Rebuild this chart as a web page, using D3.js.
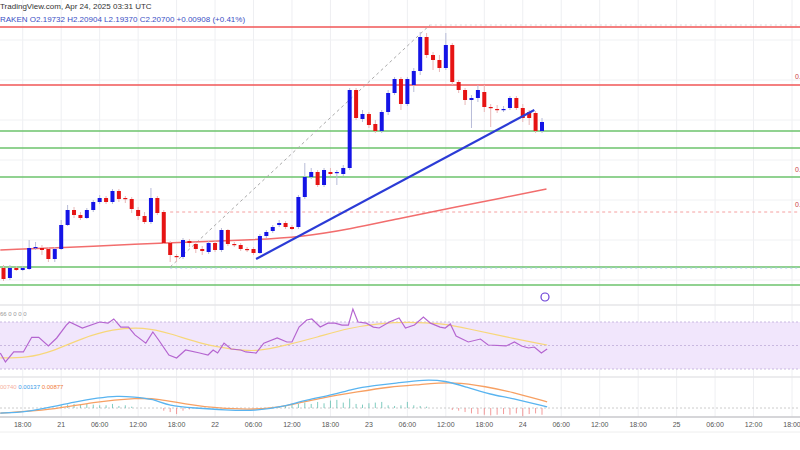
<!DOCTYPE html>
<html>
<head>
<meta charset="utf-8">
<script src="https://cdn.jsdelivr.net/npm/d3@7"></script>
<style>
  body { margin: 0; background: #fff; }
  svg { font-family: "Liberation Sans", Arial, sans-serif; display: block; }
</style>
</head>
<body>
<svg id="chart" width="800" height="450"></svg>
<script>
// hourly candles starting 2025-04-20 15:00 UTC, prices x1000
const startTime = Date.UTC(2025, 3, 20, 15);
const candles = [
  [2066,2055,2069,2053],[2056,2066,2069,2054],[2066,2064,2068,2063],[2064,2066,2068,2063],
  [2065,2086,2094,2064],[2086,2087,2092,2084],[2086,2084,2089,2079],[2085,2075,2087,2072],
  [2075,2085,2087,2072],[2085,2109,2114,2084],[2109,2124,2129,2108],[2124,2119,2127,2116],
  [2119,2116,2122,2114],[2116,2124,2126,2115],[2124,2132,2134,2122],[2132,2136,2139,2130],
  [2136,2132,2138,2130],[2132,2143,2145,2130],[2143,2135,2145,2132],[2136,2135,2138,2131],
  [2135,2125,2137,2121],[2124,2118,2127,2114],[2118,2112,2122,2110],[2112,2136,2146,2110],
  [2136,2121,2138,2119],[2122,2091,2124,2090],[2091,2079,2093,2072],[2078,2077,2080,2072],
  [2077,2094,2096,2075],[2093,2091,2095,2087],[2090,2085,2092,2081],[2085,2083,2088,2079],
  [2082,2091,2093,2080],[2091,2084,2093,2082],[2084,2104,2106,2082],[2104,2090,2105,2088],
  [2090,2089,2092,2087],[2089,2085,2091,2083],[2085,2084,2087,2082],[2085,2081,2087,2079],
  [2081,2098,2100,2080],[2098,2102,2104,2096],[2103,2107,2109,2101],[2109,2111,2114,2107],
  [2111,2107,2113,2105],[2107,2105,2109,2104],[2107,2137,2139,2105],[2137,2157,2171,2135],
  [2157,2162,2166,2155],[2162,2149,2164,2147],[2149,2164,2166,2147],[2162,2160,2166,2158],
  [2161,2162,2164,2149],[2160,2166,2169,2158],[2166,2244,2246,2164],[2244,2216,2246,2214],
  [2215,2220,2224,2212],[2220,2209,2222,2206],[2210,2203,2214,2201],[2203,2222,2224,2201],
  [2222,2241,2244,2219],[2241,2255,2257,2239],[2255,2230,2257,2224],[2230,2255,2257,2228],
  [2249,2263,2266,2242],[2263,2297,2302,2259],[2297,2279,2301,2276],[2279,2274,2282,2264],
  [2274,2266,2279,2262],[2266,2289,2301,2264],[2289,2252,2291,2249],[2252,2244,2254,2241],
  [2244,2234,2246,2229],[2234,2236,2239,2206],[2236,2244,2249,2232],[2242,2227,2249,2222],
  [2227,2226,2230,2207],[2225,2224,2229,2221],[2225,2225,2228,2222],[2226,2236,2238,2224],
  [2236,2226,2238,2224],[2226,2216,2230,2212],[2222,2216,2224,2209],[2221,2203,2223,2201],
  [2203,2212,2216,2201]
];
const redLevels = [2307, 2249];
const greenLevels = [2203, 2186, 2157, 2067, 2049];
const dashedLevel = 2122;
const trendLine = [[39.4, 2075], [82.8, 2224]];
const fibLine = [[26, 2067], [66.5, 2309]];
const maLine = [[-0.5,2084],[15,2088],[24.5,2091],[38.6,2094],[46.4,2097],[54.2,2105],[62,2116],[69.8,2126],[77.7,2136],[84.7,2145]];

const rsiLine = [[-0.5,43.6],[0.3,36],[1.6,44.5],[3.1,44.5],[4.4,57],[5.5,57],[7,49.6],[8.3,56.4],[9.8,67.4],[10.3,70],
  [12.3,64.9],[15,70],[16.3,69],[17.2,72.6],[18.3,65.7],[19.5,65.7],[20.5,59],[22.2,52],[23.3,61.5],[24.2,54.7],
  [25.8,41.9],[27,39.4],[28.4,46.2],[30.6,43.6],[31.9,41.9],[32.7,46.2],[33.4,43.6],[34.4,52],[35.5,47],[37,46.2],
  [37.8,44.5],[39.4,43.6],[40.6,52],[42.7,56.4],[44.2,53],[45,53],[46.1,65.7],[47.3,71.7],[48.1,72.6],[49.4,65.7],
  [50.6,69],[51.7,69],[52.8,67.4],[53.8,67.4],[54.5,81],[55.3,70],[56.6,69],[57.7,65.7],[58.6,64.9],[60.2,70],
  [61.7,73.4],[62.7,64.9],[64.1,67.4],[65.5,74.3],[66.6,69],[68.1,65.7],[68.9,64.9],[69.7,68.3],[70.6,58],[72.5,53],
  [74.4,55.5],[75.6,50.4],[78.4,49.6],[79.7,53],[80.8,49.6],[81.9,47.9],[82.8,48.7],[83.9,43.6],[84.8,47]];
const rsiMa = [[-0.5,39.4],[3.6,39.4],[7.5,44.5],[12.3,56.4],[17,64],[21.9,65.7],[25.8,60.6],[31.4,50.4],[35.5,47],
  [39.4,44.5],[44.2,50.4],[48.9,57],[53.8,64.9],[58.6,69],[63.3,70],[68.1,69],[72.8,64],[77.7,58],[84.8,50.4]];

const macdLine = [[-0.5,-0.0075],[3.6,-0.006],[7.5,0.0015],[11.1,0.009],[14.7,0.015],[17.8,0.018],[20.3,0.0165],
  [23.4,0.0135],[25.8,0.003],[29.8,0],[34.5,-0.003],[39.4,-0.0045],[43.4,0.0015],[47.3,0.012],[51.4,0.0195],
  [54.5,0.0285],[57.7,0.033],[61.7,0.0375],[65.6,0.042],[68.9,0.0405],[72,0.0315],[76.1,0.0195],[79.2,0.015],[84.8,0.0015]];
const signalLine = [[-0.5,-0.0075],[7.5,-0.003],[13.9,0.009],[21.1,0.015],[24.2,0.0135],[28.3,0.006],[33,0],
  [39.4,-0.003],[44.2,0.003],[49.7,0.015],[55.3,0.024],[60.2,0.0315],[64.8,0.0345],[70.5,0.039],[75.3,0.0315],
  [79.2,0.024],[84.8,0.009]];
const histBars = [[9,0.004],[10,0.005],[11,0.006],[12,0.005],[13,0.006],[14,0.005],[15,0.004],[16,0.004],[17,0.006],
  [18,0.003],[19,0.004],[20,0.002],[25,-0.004],[26,-0.006],[27,-0.009],[28,-0.004],[29,-0.002],[42,0.002],[43,0.003],
  [44,0.004],[45,0.005],[46,0.006],[47,0.008],[48,0.006],[49,0.009],[50,0.007],[51,0.011],[52,0.012],[53,0.008],
  [54,0.014],[55,0.006],[56,0.005],[57,0.007],[58,0.008],[59,0.009],[60,0.004],[61,0.003],[62,0.004],[63,0.009],
  [64,0.004],[65,0.003],[66,0.002],[70,-0.003],[71,-0.004],[72,-0.006],[73,-0.008],[74,-0.009],[75,-0.01],
  [76,-0.011],[77,-0.01],[78,-0.009],[79,-0.01],[80,-0.008],[81,-0.012],[82,-0.009],[83,-0.008],[84,-0.01]];

const tickLabels = ["18:00","21","06:00","12:00","18:00","22","06:00","12:00","18:00","23","06:00","12:00",
  "18:00","24","06:00","12:00","18:00","25","06:00","12:00","18:00"];

const svg = d3.select("#chart");
const hour = 3600000;
const t = i => new Date(startTime + i * hour);

const x = d3.scaleUtc()
  .domain([t(0), t(84)])
  .range([3.5, 542]);
const yP = d3.scaleLinear().domain([2034, 2334]).range([300, 0]);
const yR = d3.scaleLinear().domain([30, 70]).range([369, 322]);
const yM = d3.scaleLinear().domain([0, 0.04]).range([408, 381]);

// vertical grid + labels
const ticks = d3.range(tickLabels.length).map(k => new Date(Date.UTC(2025, 3, 20, 18) + k * 6 * hour));
svg.append("g").selectAll("line").data(ticks).join("line")
  .attr("x1", d => x(d)).attr("x2", d => x(d))
  .attr("y1", 0).attr("y2", 417)
  .attr("stroke", "#eeeff2");
svg.append("g").selectAll("text").data(ticks).join("text")
  .attr("x", d => x(d)).attr("y", 427)
  .attr("text-anchor", "middle").attr("font-size", 7).attr("fill", "#555")
  .text((d, k) => tickLabels[k]);

// horizontal grid
svg.append("g").selectAll("line").data(d3.range(2054, 2334, 40)).join("line")
  .attr("x1", 0).attr("x2", 800).attr("y1", d => yP(d)).attr("y2", d => yP(d))
  .attr("stroke", "#f0f1f3");

// pane separators
[305, 377].forEach(y => svg.append("line").attr("x1", 0).attr("x2", 800).attr("y1", y).attr("y2", y)
  .attr("stroke", "#e6e6e8").attr("stroke-width", 1.5));
svg.append("line").attr("x1", 0).attr("x2", 800).attr("y1", 417).attr("y2", 417)
  .attr("stroke", "#c8c8cc").attr("stroke-width", 1.5);
svg.append("line").attr("x1", 0).attr("x2", 800).attr("y1", 432).attr("y2", 432).attr("stroke", "#eee");

// levels
svg.append("g").selectAll("line").data(redLevels).join("line")
  .attr("x1", 0).attr("x2", 800).attr("y1", d => yP(d)).attr("y2", d => yP(d))
  .attr("stroke", "#f05656").attr("stroke-width", 1.5);
svg.append("g").selectAll("line").data(greenLevels).join("line")
  .attr("x1", 0).attr("x2", 800).attr("y1", d => yP(d)).attr("y2", d => yP(d))
  .attr("stroke", "#6cc36c").attr("stroke-width", 1.5);
svg.append("line").attr("x1", x(t(26))).attr("x2", 800)
  .attr("y1", yP(dashedLevel)).attr("y2", yP(dashedLevel))
  .attr("stroke", "#f5a0a0").attr("stroke-dasharray", "3,3");
svg.append("line").attr("x1", x(t(26))).attr("x2", 800)
  .attr("y1", yP(greenLevels[3]) + 1).attr("y2", yP(greenLevels[3]) + 1)
  .attr("stroke", "#a8c8e8").attr("stroke-dasharray", "2,3");
svg.append("line").attr("x1", x(t(66.5))).attr("x2", 800)
  .attr("y1", yP(fibLine[1][1])).attr("y2", yP(fibLine[1][1]))
  .attr("stroke", "#d8d8d8").attr("stroke-dasharray", "2,3");

const line = (ys) => d3.line().x(d => x(t(d[0]))).y(d => ys(d[1]));

svg.append("path").datum(fibLine).attr("d", line(yP))
  .attr("fill", "none").attr("stroke", "#aaa").attr("stroke-dasharray", "3,3");

svg.append("path").datum(maLine).attr("d", line(yP).curve(d3.curveBasis))
  .attr("fill", "none").attr("stroke", "#f26d6d").attr("stroke-width", 1.5);

// candles
const cw = 4;
const cg = svg.append("g").selectAll("g").data(candles).join("g");
cg.append("line")
  .attr("x1", (d, i) => x(t(i))).attr("x2", (d, i) => x(t(i)))
  .attr("y1", d => yP(d[2])).attr("y2", d => yP(d[3]))
  .attr("stroke", d => d[1] >= d[0] ? "#b8bcd8" : "#e8b8b8");
cg.append("rect")
  .attr("x", (d, i) => x(t(i)) - cw / 2).attr("width", cw)
  .attr("y", d => yP(Math.max(d[0], d[1])))
  .attr("height", d => Math.max(1.2, Math.abs(yP(d[0]) - yP(d[1]))))
  .attr("fill", d => d[1] >= d[0] ? "#1414e6" : "#e61414");

svg.append("path").datum(trendLine).attr("d", line(yP))
  .attr("fill", "none").attr("stroke", "#2b3bd6").attr("stroke-width", 2.2);

// header
svg.append("text").attr("x", 0).attr("y", 9).attr("font-size", 8).attr("fill", "#333")
  .text("TradingView.com, Apr 24, 2025 03:31 UTC");
svg.append("text").attr("x", 0).attr("y", 22).attr("font-size", 8).attr("fill", "#3b4fc4")
  .text("RAKEN  O2.19732  H2.20904  L2.19370  C2.20700  +0.00908 (+0.41%)");
[[795, 79], [795, 172], [795, 207]].forEach(p => svg.append("text").attr("x", p[0]).attr("y", p[1])
  .attr("font-size", 7).attr("fill", "#c44").text("0."));

// replay icon
svg.append("circle").attr("cx", 545).attr("cy", 297).attr("r", 4)
  .attr("fill", "none").attr("stroke", "#6a3fd6").attr("stroke-width", 1.2);

// RSI pane
svg.append("rect").attr("x", 0).attr("width", 800).attr("y", yR(70)).attr("height", yR(30) - yR(70))
  .attr("fill", "#f1e6fc");
[70, 50, 30].forEach(v => svg.append("line").attr("x1", 0).attr("x2", 800).attr("y1", yR(v)).attr("y2", yR(v))
  .attr("stroke", "#c9b8e0").attr("stroke-dasharray", "2,2"));
svg.append("path").datum(rsiMa).attr("d", line(yR).curve(d3.curveBasis))
  .attr("fill", "none").attr("stroke", "#f7d77a").attr("stroke-width", 1.2);
svg.append("path").datum(rsiLine).attr("d", line(yR))
  .attr("fill", "none").attr("stroke", "#b565d0").attr("stroke-width", 1.2);
svg.append("text").attr("x", 0).attr("y", 316).attr("font-size", 6).attr("fill", "#999")
  .text("66  0  0  0  0");

// MACD pane
svg.append("line").attr("x1", 0).attr("x2", 800).attr("y1", yM(0)).attr("y2", yM(0))
  .attr("stroke", "#ccc").attr("stroke-dasharray", "2,2");
svg.append("g").selectAll("line").data(histBars).join("line")
  .attr("x1", d => x(t(d[0]))).attr("x2", d => x(t(d[0])))
  .attr("y1", yM(0)).attr("y2", d => yM(d[1]))
  .attr("stroke", d => d[1] >= 0 ? "#5fbfb0" : "#f08080").attr("stroke-width", 0.8);
svg.append("path").datum(signalLine).attr("d", line(yM).curve(d3.curveBasis))
  .attr("fill", "none").attr("stroke", "#f7a063").attr("stroke-width", 1.3);
svg.append("path").datum(macdLine).attr("d", line(yM).curve(d3.curveBasis))
  .attr("fill", "none").attr("stroke", "#59b4f0").attr("stroke-width", 1.3);
const lg = svg.append("text").attr("x", 0).attr("y", 389).attr("font-size", 6);
lg.append("tspan").attr("fill", "#f5b0a0").text("00740  ");
lg.append("tspan").attr("fill", "#3a9be8").text("0.00137  ");
lg.append("tspan").attr("fill", "#f07a3a").text("0.00877");
</script>
</body>
</html>
